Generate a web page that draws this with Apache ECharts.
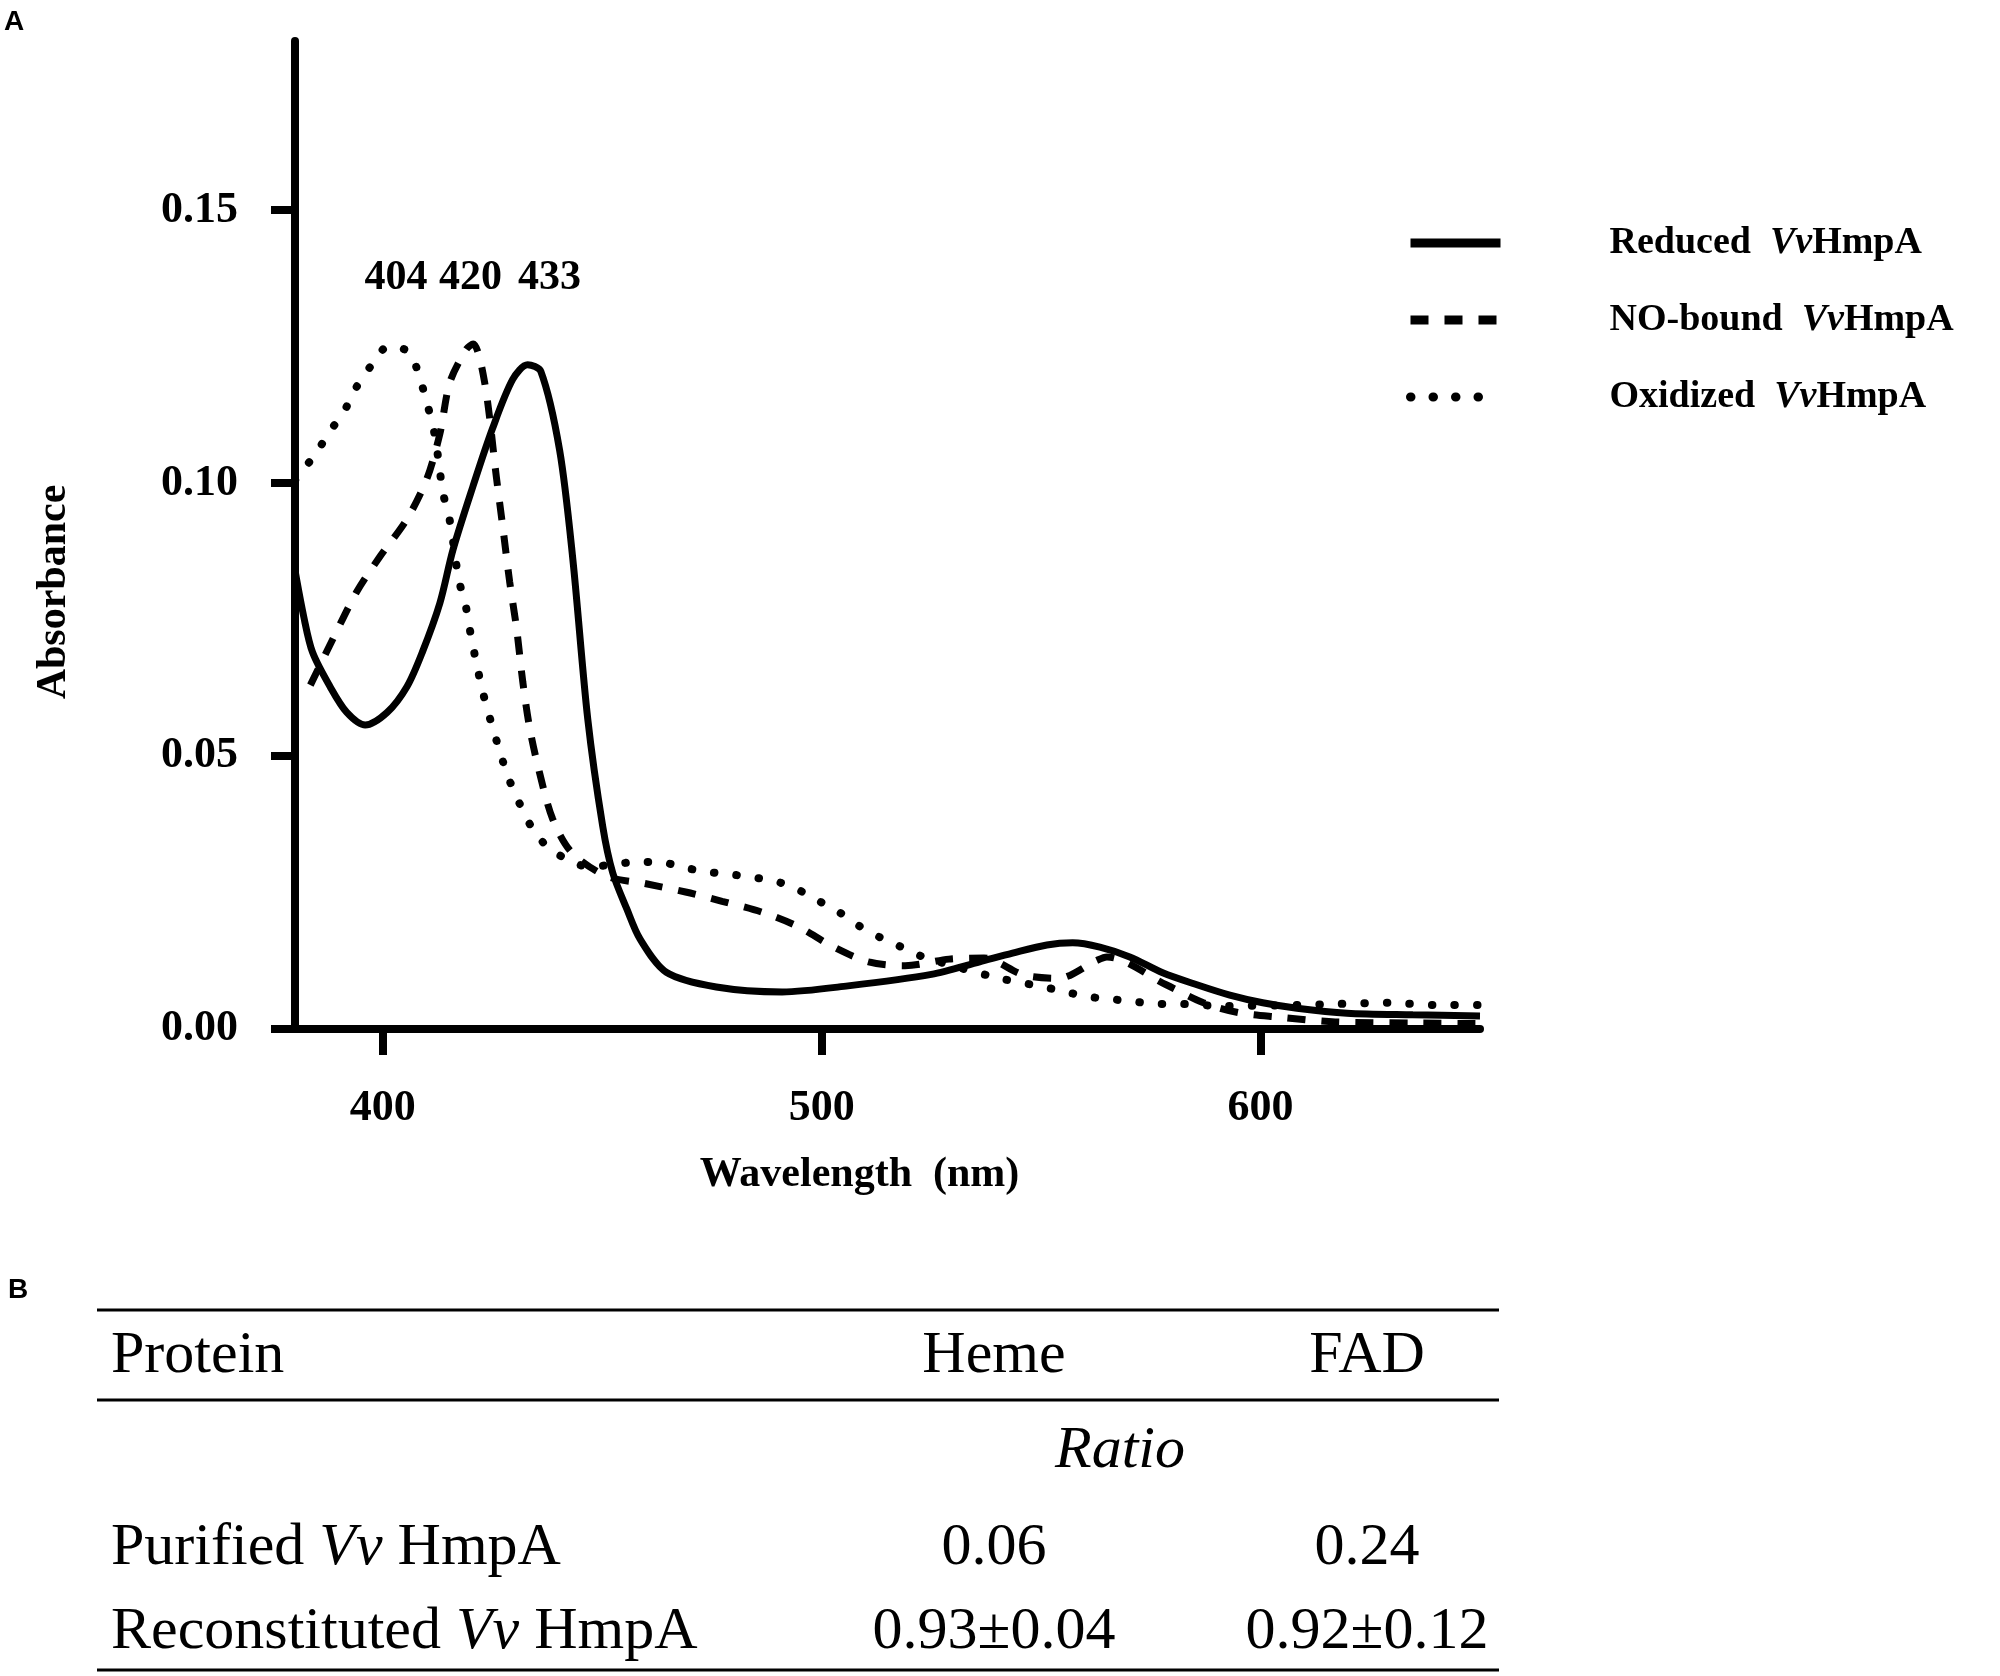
<!DOCTYPE html>
<html>
<head>
<meta charset="utf-8">
<script src="https://cdn.jsdelivr.net/npm/echarts@6/dist/echarts.min.js"></script>
<style>
html, body {margin: 0; padding: 0; background: #fff;}
#main {width: 2000px; height: 1676px;}
</style>
</head>
<body>
<div id="main"></div>
<script>
// spectra (wavelength in nm, absorbance)
var reducedWl  = [380, 382, 384, 388, 391.8, 396, 401, 405.5, 409, 413, 416, 420.5, 425, 429.6, 433, 436, 440.3, 443.3, 446.7, 450.1, 452.4, 455.6, 458.6, 464.6, 476, 491, 506, 525, 536, 543.5, 551.3, 557.2, 563.4, 570.2, 577.7, 585.5, 593, 600.5, 608.3, 619.7, 634.7, 650];
var reducedAbs = [0.084, 0.0755, 0.069, 0.0627, 0.058, 0.0557, 0.058, 0.0627, 0.069, 0.078, 0.0878, 0.0993, 0.110, 0.119, 0.1217, 0.1205, 0.106, 0.0861, 0.0568, 0.0372, 0.0286, 0.022, 0.0165, 0.0104, 0.0077, 0.0068, 0.0079, 0.0100, 0.0123, 0.0139, 0.0154, 0.0158, 0.0150, 0.0132, 0.0103, 0.0081, 0.0062, 0.0048, 0.0038, 0.0029, 0.0026, 0.0024];

var noWl  = [383.5, 388.6, 394, 399.4, 405.5, 410, 413, 415.3, 419, 420.6, 423.2, 425.9, 427.4, 428.9, 430.5, 431.9, 433.5, 435.7, 438.7, 443, 451, 460, 469, 477.3, 486.4, 494.8, 502.3, 510.7, 519, 529, 537, 546, 554, 562.5, 565, 578.5, 587, 595, 604, 617, 635, 650];
var noAbs = [0.063, 0.0714, 0.080, 0.0866, 0.0934, 0.1007, 0.109, 0.1185, 0.1245, 0.1255, 0.1185, 0.101, 0.0916, 0.082, 0.0733, 0.0636, 0.055, 0.047, 0.0385, 0.0324, 0.028, 0.0266, 0.0251, 0.0234, 0.0214, 0.0187, 0.0152, 0.0123, 0.0116, 0.0128, 0.0130, 0.0099, 0.0093, 0.0125, 0.0132, 0.0081, 0.0048, 0.0030, 0.0022, 0.0013, 0.0011, 0.0010];

var oxWl  = [380, 384.6, 387.8, 391.2, 394, 397.6, 401.2, 406, 408.5, 410.3, 411.9, 412.8, 413.7, 415.3, 417.3, 418.9, 420.1, 421.4, 422.8, 424.6, 426.5, 428.5, 431, 433.9, 437.6, 442, 447, 452, 458, 463, 468, 473.5, 478.7, 484, 489.4, 494.4, 499, 504, 508.5, 513.5, 518.2, 523.2, 539.4, 549.3, 554.7, 560, 565.3, 570.6, 576, 581.3, 591.7, 607.8, 618.3, 629, 639.7, 650];
var oxAbs = [0.1005, 0.1053, 0.1093, 0.1132, 0.1176, 0.1218, 0.125, 0.124, 0.119, 0.114, 0.1086, 0.1035, 0.0983, 0.093, 0.0824, 0.0775, 0.072, 0.0668, 0.0617, 0.0564, 0.0513, 0.0463, 0.0416, 0.037, 0.0333, 0.0311, 0.0297, 0.0301, 0.0306, 0.0306, 0.0297, 0.0288, 0.0284, 0.0278, 0.0271, 0.0256, 0.0236, 0.0214, 0.0189, 0.0167, 0.015, 0.0132, 0.0095, 0.0079, 0.007, 0.006, 0.0055, 0.0051, 0.0046, 0.0046, 0.0042, 0.0044, 0.0046, 0.0048, 0.0044, 0.0044];

var xTicks = [400, 500, 600];
var yTicks = [0, 0.05, 0.10, 0.15];

// peak annotations
var peakNames = ['404', '420', '433'];
var peakWl = [403, 420, 438];
var peakAbs = 0.1375;

// table (panel B)
var tableHead = ['Protein', 'Heme', 'FAD'];
var tableUnit = 'Ratio';
var proteinNames = [['Purified ', 'Vv', ' HmpA'], ['Reconstituted ', 'Vv', ' HmpA']];
var hemeRatio = ['0.06', '0.93\u00b10.04'];
var fadRatio = ['0.24', '0.92\u00b10.12'];

var serif = '"Liberation Serif", "Times New Roman", serif';

function zip(a, b) {
    var out = [];
    for (var i = 0; i < a.length; i++) out.push([a[i], b[i]]);
    return out;
}

var chart = echarts.init(document.getElementById('main'));

var rich = {
    n: {fontFamily: serif, fontWeight: 'bold', fontSize: 38, color: '#000', lineHeight: 44},
    i: {fontFamily: serif, fontWeight: 'bold', fontStyle: 'italic', fontSize: 38, color: '#000', lineHeight: 44}
};

var tRich = {
    n: {fontFamily: serif, fontSize: 60, color: '#000'},
    i: {fontFamily: serif, fontStyle: 'italic', fontSize: 60, color: '#000'}
};

// build the table as graphic elements
var graphics = [
    {type: 'text', left: 4, top: 8, style: {text: 'A', font: 'bold 28px "Liberation Sans", Arial, sans-serif', fill: '#000'}},
    {type: 'text', left: 8, top: 1276, style: {text: 'B', font: 'bold 28px "Liberation Sans", Arial, sans-serif', fill: '#000'}}
];
[1310, 1400, 1670].forEach(function (y) {
    graphics.push({type: 'line', shape: {x1: 97, y1: y, x2: 1499, y2: y}, style: {stroke: '#000', lineWidth: 3}});
});
var colX = [111, 994, 1367];
var rowY = [1548, 1632];
function cell(x, y, txt, align) {
    graphics.push({type: 'text', x: x, y: y, style: {text: txt, rich: tRich, align: align, verticalAlign: 'middle'}});
}
cell(colX[0], 1356, '{n|' + tableHead[0] + '}', 'left');
cell(colX[1], 1356, '{n|' + tableHead[1] + '}', 'center');
cell(colX[2], 1356, '{n|' + tableHead[2] + '}', 'center');
cell(1120, 1451, '{i|' + tableUnit + '}', 'center');
for (var r = 0; r < proteinNames.length; r++) {
    var p = proteinNames[r];
    cell(colX[0], rowY[r], '{n|' + p[0] + '}{i|' + p[1] + '}{n|' + p[2] + '}', 'left');
    cell(colX[1], rowY[r], '{n|' + hemeRatio[r] + '}', 'center');
    cell(colX[2], rowY[r], '{n|' + fadRatio[r] + '}', 'center');
}

function peakPoint(k) {
    return {
        symbol: 'circle',
        symbolSize: 1,
        itemStyle: {color: 'rgba(0,0,0,0)'},
        label: {show: true, position: 'inside', formatter: '{b}', fontFamily: serif, fontWeight: 'bold', fontSize: 42, color: '#000'},
        data: [{name: peakNames[k], coord: [peakWl[k], peakAbs]}]
    };
}

var option = {
    backgroundColor: '#fff',
    animation: false,
    grid: {left: 295, right: 520, top: 41, bottom: 647, containLabel: false},
    legend: {
        orient: 'vertical',
        left: 1401,
        top: 219,
        itemWidth: 90,
        itemHeight: 14,
        itemGap: 39,
        align: 'left',
        selectedMode: false,
        itemStyle: {opacity: 0},
        lineStyle: {width: 9},
        formatter: function (name) {
            return '{n|' + name.replace('VvHmpA', '') + ' }{i|Vv}{n|HmpA}';
        },
        textStyle: {padding: [0, 0, 0, 104], rich: rich}
    },
    xAxis: {
        type: 'value',
        min: 380,
        max: 650,
        name: 'Wavelength  (nm)',
        nameLocation: 'middle',
        nameGap: 125,
        nameTextStyle: {fontFamily: serif, fontWeight: 'bold', fontSize: 42, color: '#000', padding: [0, 56, 0, 0]},
        axisLine: {lineStyle: {color: '#000', width: 8}},
        axisTick: {customValues: xTicks, length: 26, lineStyle: {color: '#000', width: 8}},
        axisLabel: {customValues: xTicks, margin: 58, fontFamily: serif, fontWeight: 'bold', fontSize: 44, color: '#000'},
        splitLine: {show: false}
    },
    yAxis: {
        type: 'value',
        min: 0,
        max: 0.181,
        name: 'Absorbance',
        nameLocation: 'middle',
        nameGap: 220,
        nameTextStyle: {fontFamily: serif, fontWeight: 'bold', fontSize: 42, color: '#000', padding: [0, 114, 0, 0]},
        axisLine: {lineStyle: {color: '#000', width: 8}},
        axisTick: {customValues: yTicks, length: 24, lineStyle: {color: '#000', width: 8}},
        axisLabel: {
            customValues: yTicks, margin: 57, fontFamily: serif, fontWeight: 'bold', fontSize: 44, color: '#000',
            formatter: function (v) { return v.toFixed(2); }
        },
        splitLine: {show: false}
    },
    graphic: graphics,
    series: [
        {
            name: 'Reduced VvHmpA',
            type: 'line',
            data: zip(reducedWl, reducedAbs),
            symbol: 'none',
            smooth: 0.3,
            lineStyle: {color: '#000', width: 7, type: 'solid'},
            itemStyle: {color: '#000'},
            markPoint: peakPoint(2)
        },
        {
            name: 'NO-bound VvHmpA',
            type: 'line',
            data: zip(noWl, noAbs),
            symbol: 'none',
            smooth: 0.3,
            lineStyle: {color: '#000', width: 7, type: [18, 16]},
            itemStyle: {color: '#000'},
            markPoint: peakPoint(1)
        },
        {
            name: 'Oxidized VvHmpA',
            type: 'line',
            data: zip(oxWl, oxAbs),
            symbol: 'none',
            smooth: 0.3,
            lineStyle: {color: '#000', width: 8, type: [0.5, 22], cap: 'round'},
            itemStyle: {color: '#000'},
            markPoint: peakPoint(0)
        }
    ]
};

chart.setOption(option);
</script>
</body>
</html>
